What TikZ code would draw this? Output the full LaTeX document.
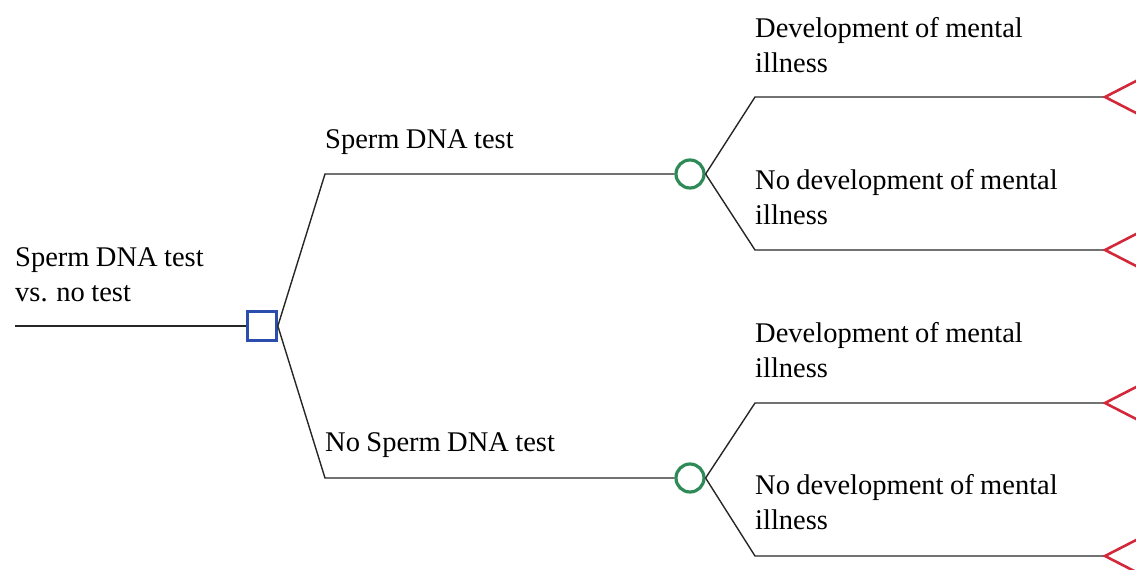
\documentclass[tikz,border=0pt]{standalone}
\usepackage{fontspec}
\setmainfont{Liberation Serif}[WordSpace=0.9]
\definecolor{decblue}{HTML}{2B4DAE}
\definecolor{chgreen}{HTML}{2E8B57}
\definecolor{termred}{HTML}{D3283A}
\begin{document}
\begin{tikzpicture}[x=1pt,y=-1pt,
  lbl/.style={anchor=base west,inner sep=0pt,align=left,font=\fontsize{28.5}{35}\selectfont},
  edge/.style={draw=black!85,line width=1.4pt},
  decision/.style={draw=decblue,line width=3.2pt,minimum size=28.5pt,inner sep=0pt,fill=white},
  chance/.style={circle,draw=chgreen,line width=3.2pt,minimum size=28pt,inner sep=0pt,fill=white},
  term/.style={draw=termred,line width=2.6pt,line join=miter}]
\useasboundingbox (0,0) rectangle (1136,570);
% nodes
\coordinate (r) at (15,326);
\node[decision] (d) at (262,326) {};
\node[chance] (c1) at (690,174) {};
\node[chance] (c2) at (690,478) {};
\coordinate (b1) at (325,174);
\coordinate (b2) at (325,478);
\coordinate (e1) at (755,97);
\coordinate (e2) at (755,250);
\coordinate (e3) at (755,403);
\coordinate (e4) at (755,556);
\coordinate (t1) at (1105,97);
\coordinate (t2) at (1105,250);
\coordinate (t3) at (1105,403);
\coordinate (t4) at (1105,556);
% connectors
\draw[edge] (r) -- (d.west);
\draw[edge] (d.east) -- (b1) -- (c1.west);
\draw[edge] (d.east) -- (b2) -- (c2.west);
\draw[edge] (c1.east) -- (e1) -- (t1);
\draw[edge] (c1.east) -- (e2) -- (t2);
\draw[edge] (c2.east) -- (e3) -- (t3);
\draw[edge] (c2.east) -- (e4) -- (t4);
% terminals
\foreach \t in {t1,t2,t3,t4}{
  \draw[term] (\t) -- ++(36,-18.5) -- ++(0,37) -- cycle;
}
% labels (base anchor = last line's baseline)
\node[lbl] (l0) at (15,301) {Sperm DNA test\\vs. no test};
\node[lbl] (l1) at (325,148) {Sperm DNA test};
\node[lbl] (l2) at (325,451) {No Sperm DNA test};
\node[lbl] (l3) at (755,72) {Development of mental\\illness};
\node[lbl] (l4) at (755,224) {No development of mental\\illness};
\node[lbl] (l5) at (755,377) {Development of mental\\illness};
\node[lbl] (l6) at (755,529) {No development of mental\\illness};
\end{tikzpicture}
\end{document}
